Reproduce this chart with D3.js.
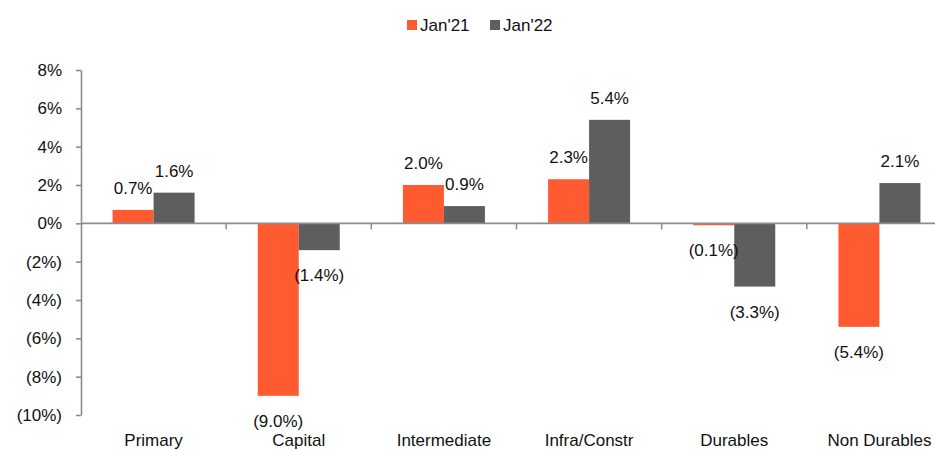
<!DOCTYPE html>
<html>
<head>
<meta charset="utf-8">
<script src="https://cdn.jsdelivr.net/npm/d3@7"></script>
<style>
	body { margin: 0; background: #fff; }
	svg { font-family: "Liberation Sans", Arial, sans-serif; }
</style>
</head>
<body>
<div id="chart"></div>
<script>
	// chart data
	var categories = ["Primary", "Capital", "Intermediate", "Infra/Constr", "Durables", "Non Durables"];
	var seriesNames = ["Jan'21", "Jan'22"];
	var jan21 = [0.7, -9.0, 2.0, 2.3, -0.1, -5.4];
	var jan22 = [1.6, -1.4, 0.9, 5.4, -3.3, 2.1];
	var yTicks = [-10, -8, -6, -4, -2, 0, 2, 4, 6, 8];
	var colors = ["#ff5a30", "#5e5e5e"];

	var width = 935, height = 450;
	var margins = { left: 81, right: -17, top: 70, bottom: 35 };
	var fontSize = 17,
		axisColor = "#8c8c8c";

	var rows = categories.map(function(c, i) {
		return { name: c, values: [jan21[i], jan22[i]] };
	});

	var svg = d3.select("#chart").append("svg")
		.attr("width", width)
		.attr("height", height)
		.style("font-size", fontSize + "px");

	var fmt = function(v, digits) {
		var s = Math.abs(v).toFixed(digits) + "%";
		return v < 0 ? "(" + s + ")" : s;
	};

	// scales
	var x0 = d3.scaleBand()
		.domain(categories)
		.range([margins.left, width - margins.right])
		.padding(0);
	var x1 = d3.scaleBand()
		.domain(seriesNames)
		.range([0, x0.bandwidth()])
		.paddingInner(0)
		.paddingOuter(0.77);
	var y = d3.scaleLinear()
		.domain([-10, 8])
		.range([height - margins.bottom, margins.top]);

	// bars
	var groups = svg.selectAll(".grp")
		.data(rows).enter()
		.append("g")
			.attr("class", "grp")
			.attr("transform", function(d) { return "translate(" + x0(d.name) + ",0)"; });

	groups.selectAll("rect")
		.data(function(d) { return d.values.map(function(v, i) { return { s: seriesNames[i], v: v, i: i }; }); })
		.enter().append("rect")
			.attr("x", function(d) { return x1(d.s); })
			.attr("y", function(d) { return y(Math.max(0, d.v)); })
			.attr("width", x1.bandwidth())
			.attr("height", function(d) { return Math.abs(y(d.v) - y(0)); })
			.attr("fill", function(d) { return colors[d.i]; });

	// value labels
	groups.selectAll("text")
		.data(function(d) { return d.values.map(function(v, i) { return { s: seriesNames[i], v: v, i: i }; }); })
		.enter().append("text")
			.attr("x", function(d) { return x1(d.s) + x1.bandwidth() / 2; })
			.attr("y", function(d) { return d.v >= 0 ? y(d.v) - 16 : y(d.v) + 31; })
			.attr("text-anchor", "middle")
			.attr("fill", "#111")
			.text(function(d) { return fmt(d.v, 1); });

	// zero line with category ticks
	svg.append("line")
		.attr("x1", margins.left).attr("x2", width)
		.attr("y1", y(0)).attr("y2", y(0))
		.attr("stroke", axisColor)
		.attr("stroke-width", 1.6);
	svg.selectAll(".cat-tick")
		.data(categories.slice(1)).enter()
		.append("line")
			.attr("class", "cat-tick")
			.attr("x1", function(c) { return x0(c); })
			.attr("x2", function(c) { return x0(c); })
			.attr("y1", y(0)).attr("y2", y(0) + 6)
			.attr("stroke", axisColor)
			.attr("stroke-width", 1.5);

	// category labels
	svg.selectAll(".cat-label")
		.data(categories).enter()
		.append("text")
			.attr("class", "cat-label")
			.attr("x", function(c) { return x0(c) + x0.bandwidth() / 2; })
			.attr("y", 446)
			.attr("text-anchor", "middle")
			.attr("fill", "#111")
			.text(function(c) { return c; });

	// y axis
	var yAxis = d3.axisLeft(y)
		.tickValues(yTicks)
		.tickSize(5)
		.tickSizeOuter(0)
		.tickPadding(14)
		.tickFormat(function(v) { return fmt(v, 0); });
	var yg = svg.append("g")
		.attr("transform", "translate(" + margins.left + ",0)")
		.call(yAxis);
	yg.selectAll("text")
		.attr("fill", "#111")
		.style("font-size", fontSize + "px")
		.style("font-family", "'Liberation Sans', Arial, sans-serif");
	yg.selectAll("path, line")
		.attr("stroke", axisColor)
		.attr("stroke-width", 1.6);

	// legend
	var legendX = [407, 490];
	var legend = svg.selectAll(".legend")
		.data(seriesNames).enter()
		.append("g")
			.attr("class", "legend")
			.attr("transform", function(d, i) { return "translate(" + legendX[i] + ",20)"; });
	legend.append("rect")
		.attr("width", 10).attr("height", 10)
		.attr("fill", function(d, i) { return colors[i]; });
	legend.append("text")
		.attr("x", 13).attr("y", 11)
		.attr("fill", "#111")
		.text(function(d) { return d; });
</script>
</body>
</html>
